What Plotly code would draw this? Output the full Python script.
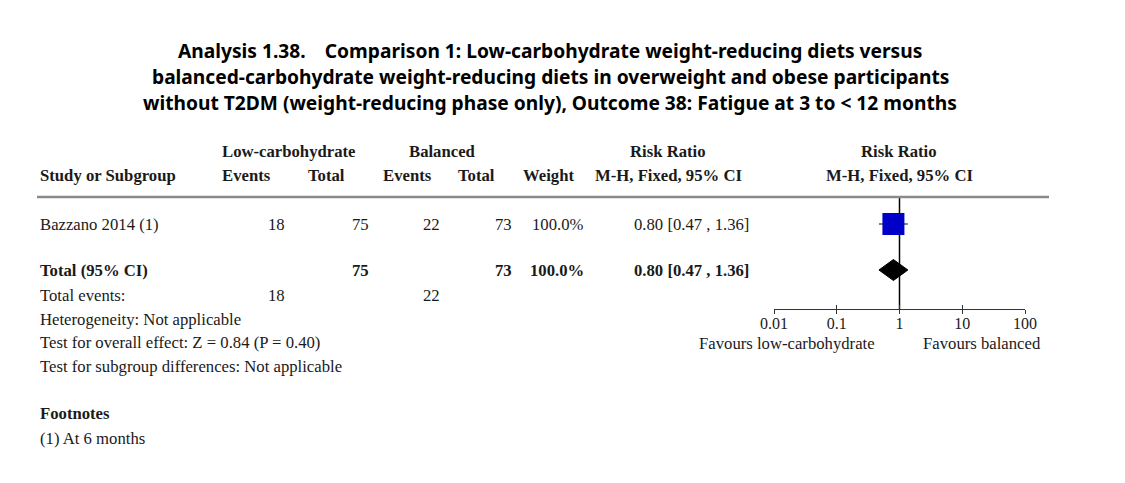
import plotly.graph_objects as go

# ---------------- data ----------------
studies = ["Bazzano 2014 (1)"]
low_events = [18]
low_total = [75]
bal_events = [22]
bal_total = [73]
weights = [100.0]
rr = [0.80]
ci_low = [0.47]
ci_high = [1.36]

total_rr = 0.80
total_low = 0.47
total_high = 1.36
total_low_n = 75
total_bal_n = 73
total_low_events = 18
total_bal_events = 22
total_weight = 100.0

tick_vals = [0.01, 0.1, 1, 10, 100]
tick_text = ["0.01", "0.1", "1", "10", "100"]

title_lines = [
    "Analysis 1.38.\u2003Comparison 1: Low-carbohydrate weight-reducing diets versus",
    "balanced-carbohydrate weight-reducing diets in overweight and obese participants",
    "without T2DM (weight-reducing phase only), Outcome 38: Fatigue at 3 to < 12 months",
]
footer_lines = [
    "Heterogeneity: Not applicable",
    "Test for overall effect: Z = 0.84 (P = 0.40)",
    "Test for subgroup differences: Not applicable",
]
footnotes = ["(1) At 6 months"]

# ---------------- layout constants (pixels) ----------------
W, H = 1125, 483
OFF = 8  # page body margin compensation
SERIF = "Liberation Serif, Times New Roman, serif"
SANS = "Noto Sans, Open Sans, sans-serif"
TXT = "#1a1a1a"
FS = 16.7

row_header1 = 151
row_header2 = 175
row_study = [224]
row_total = 270
row_tevents = 295
row_footer = [319, 342, 366]
row_fn_head = 413
row_fn = [438]
axis_y = 309
line_y = 197
ax_left, ax_right = 774, 1025

fig = go.Figure()

# --- forest plot marks (log x axis = x2) ---
fig.add_trace(go.Scatter(x=[1, 1], y=[line_y, axis_y], mode="lines",
                         xaxis="x2", yaxis="y",
                         line=dict(color="black", width=1.5),
                         hoverinfo="skip", showlegend=False))
for i in range(len(studies)):
    fig.add_trace(go.Scatter(x=[ci_low[i], ci_high[i]], y=[row_study[i], row_study[i]],
                             xaxis="x2", yaxis="y",
                             mode="lines", line=dict(color="#333", width=1.2),
                             hoverinfo="skip", showlegend=False))
    fig.add_trace(go.Scatter(x=[rr[i]], y=[row_study[i]], mode="markers",
                             xaxis="x2", yaxis="y",
                             marker=dict(symbol="square", size=22, color="#0000c8",
                                         line=dict(width=0)),
                             hoverinfo="skip", showlegend=False))
dh = 10.5
fig.add_trace(go.Scatter(x=[total_low, total_rr, total_high, total_rr, total_low],
                         y=[row_total, row_total - dh, row_total, row_total + dh, row_total],
                         xaxis="x2", yaxis="y",
                         mode="lines", fill="toself", fillcolor="black",
                         line=dict(color="black", width=1),
                         hoverinfo="skip", showlegend=False))
fig.add_trace(go.Scatter(x=[1], y=[-100], xaxis="x3", yaxis="y", mode="markers",
                         marker=dict(opacity=0), hoverinfo="skip", showlegend=False))
fig.add_trace(go.Scatter(x=[0], y=[-100], xaxis="x", yaxis="y", mode="markers",
                         marker=dict(opacity=0), hoverinfo="skip", showlegend=False))

ann = []


def T(x, y, s, anchor="left", bold=False, size=FS, font=SERIF, color=TXT):
    if bold:
        s = "<b>" + s + "</b>"
    ann.append(dict(x=x, y=y, xref="x", yref="y", text=s, showarrow=False,
                    xanchor=anchor, yanchor="middle",
                    font=dict(family=font, size=size, color=color)))


for k, line in enumerate(title_lines):
    T(550, 50 + 26 * k, line, anchor="center", bold=True, size=19.2, font=SANS, color="black")

T(288, row_header1, "Low-carbohydrate", "center", True)
T(442, row_header1, "Balanced", "center", True)
T(668, row_header1, "Risk Ratio", "center", True)
T(899, row_header1, "Risk Ratio", "center", True)
T(38, row_header2, "Study or Subgroup", "left", True)
T(246, row_header2, "Events", "center", True)
T(347, row_header2, "Total", "right", True)
T(407, row_header2, "Events", "center", True)
T(497, row_header2, "Total", "right", True)
T(576, row_header2, "Weight", "right", True)
T(668, row_header2, "M-H, Fixed, 95% CI", "center", True)
T(899, row_header2, "M-H, Fixed, 95% CI", "center", True)

for i, s in enumerate(studies):
    y = row_study[i]
    T(38, y, s)
    T(287, y, str(low_events[i]), "right")
    T(371, y, str(low_total[i]), "right")
    T(442, y, str(bal_events[i]), "right")
    T(514, y, str(bal_total[i]), "right")
    T(586, y, f"{weights[i]:.1f}%", "right")
    T(691, y, f"{rr[i]:.2f} [{ci_low[i]:.2f} , {ci_high[i]:.2f}]", "center")

T(38, row_total, "Total (95% CI)", "left", True)
T(371, row_total, str(total_low_n), "right", True)
T(514, row_total, str(total_bal_n), "right", True)
T(586, row_total, f"{total_weight:.1f}%", "right", True)
T(691, row_total, f"{total_rr:.2f} [{total_low:.2f} , {total_high:.2f}]", "center", True)

T(38, row_tevents, "Total events:")
T(287, row_tevents, str(total_low_events), "right")
T(442, row_tevents, str(total_bal_events), "right")

for y, s in zip(row_footer, footer_lines):
    T(38, y, s)

T(38, row_fn_head, "Footnotes", "left", True)
for y, s in zip(row_fn, footnotes):
    T(38, y, s)

T(787, 343, "Favours low-carbohydrate", "center")
T(982, 343, "Favours balanced", "center")

dom = [(ax_left - OFF) / W, (ax_right - OFF) / W]
fig.update_layout(
    template="none",
    autosize=False,
    annotations=ann,
    width=W, height=H,
    margin=dict(l=0, r=0, t=0, b=0, pad=0),
    paper_bgcolor="white", plot_bgcolor="rgba(0,0,0,0)",
    showlegend=False,
    xaxis=dict(range=[OFF, W + OFF], domain=[0, 1], visible=False, anchor="y",
               fixedrange=True, automargin=False),
    yaxis=dict(range=[H + OFF, OFF], domain=[0, 1], visible=False, fixedrange=True,
               automargin=False),
    # labelled axis: ticks pointing up, labels just below the line
    xaxis2=dict(type="log", range=[-2, 2], domain=dom,
                anchor="free", position=1 - (axis_y - OFF) / H, automargin=False,
                showline=True, linecolor="#333", linewidth=1.2,
                ticks="inside", ticklen=4, tickwidth=1.2, tickcolor="#333",
                tickvals=tick_vals, ticktext=tick_text, ticklabelstandoff=0,
                tickfont=dict(family=SERIF, size=16, color=TXT),
                showgrid=False, zeroline=False, fixedrange=True),
    # companion axis: ticks pointing down, no labels
    xaxis3=dict(type="log", range=[-2, 2], domain=dom, automargin=False,
                anchor="free", position=1 - (axis_y - OFF) / H, overlaying="x2",
                showline=False, ticks="outside", ticklen=4, tickwidth=1.2,
                tickcolor="#333", tickvals=tick_vals, showticklabels=False,
                showgrid=False, zeroline=False, fixedrange=True),
    shapes=[dict(type="line", xref="x", yref="y", x0=37, x1=1049, y0=line_y, y1=line_y,
                 line=dict(color="#8a8a8a", width=2.5))],
)

fig.write_html("out.html")
